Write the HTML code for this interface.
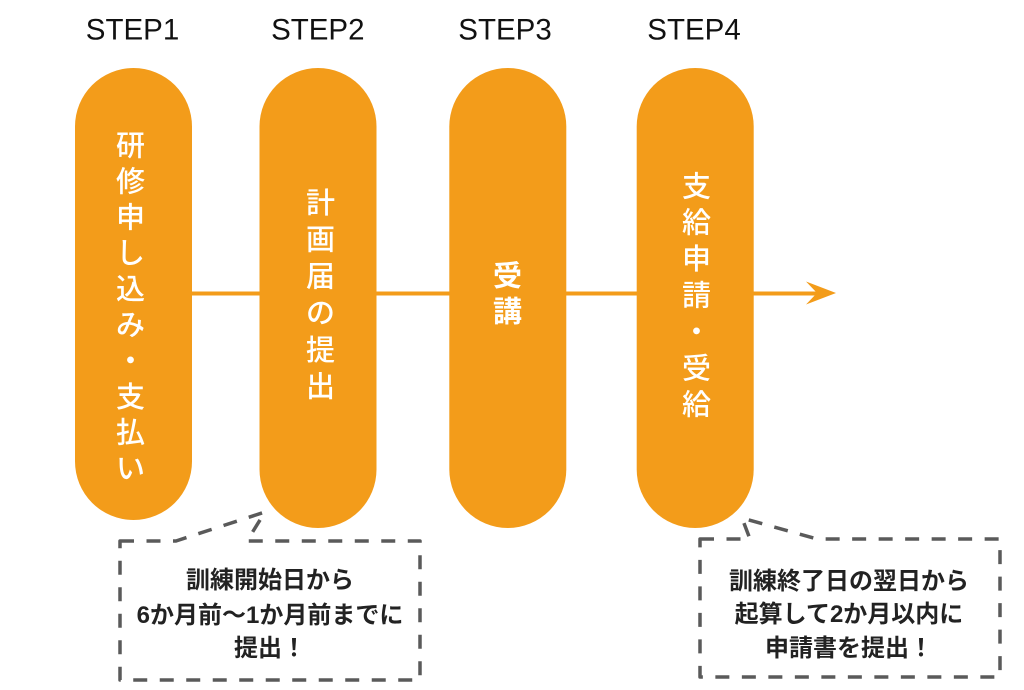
<!DOCTYPE html>
<html>
<head>
<meta charset="utf-8">
<style>
  html,body{margin:0;padding:0;background:#fff;}
  body{width:1024px;height:690px;overflow:hidden;}
  svg{display:block;}
</style>
</head>
<body>
<svg width="1024" height="690" viewBox="0 0 1024 690" xmlns="http://www.w3.org/2000/svg">
  <rect x="0" y="0" width="1024" height="690" fill="#ffffff"/>

  <!-- STEP labels -->
  <g font-family="'Liberation Sans', Arial, sans-serif" font-size="29.5" fill="#111" text-anchor="middle">
    <text x="132.5" y="39.5">STEP1</text>
    <text x="317.8" y="39.5">STEP2</text>
    <text x="505" y="39.5">STEP3</text>
    <text x="694" y="39.5">STEP4</text>
  </g>

  <!-- arrow line -->
  <rect x="150" y="291.5" width="670" height="4" fill="#F39C1A"/>
  <polygon points="836,293 806,281.5 817,293 806,304.5" fill="#F39C1A"/>

  <!-- pills -->
  <g fill="#F39C1A">
    <rect x="75" y="68" width="117" height="452" rx="58.5" ry="58.5"/>
    <rect x="259.5" y="68" width="117" height="460" rx="58.5" ry="58.5"/>
    <rect x="449.3" y="68" width="117" height="460" rx="58.5" ry="58.5"/>
    <rect x="636.7" y="68" width="117" height="460" rx="58.5" ry="58.5"/>
  </g>

  <!-- pill texts -->
  <g font-family="'Liberation Sans', 'Noto Sans CJK JP', sans-serif" font-size="29" font-weight="500" fill="#ffffff" text-anchor="middle">
    <text x="130.5" y="155.5">研</text>
    <text x="130.5" y="191.4">修</text>
    <text x="130.5" y="227.3">申</text>
    <text x="130.5" y="263.2">し</text>
    <text x="130.5" y="299.1">込</text>
    <text x="130.5" y="335">み</text>
    <text x="130.5" y="370.9">・</text>
    <text x="130.5" y="406.8">支</text>
    <text x="130.5" y="442.7">払</text>
    <text x="130.5" y="478.6">い</text>

    <text x="320.5" y="213">計</text>
    <text x="320.5" y="249.7">画</text>
    <text x="320.5" y="286.4">届</text>
    <text x="320.5" y="323.1">の</text>
    <text x="320.5" y="359.8">提</text>
    <text x="320.5" y="396.5">出</text>

    <text x="507.5" y="286" font-weight="bold">受</text>
    <text x="507.5" y="321.5" font-weight="bold">講</text>

    <text x="696.5" y="196.3">支</text>
    <text x="696.5" y="232.7">給</text>
    <text x="696.5" y="269.1">申</text>
    <text x="696.5" y="305.5">請</text>
    <text x="696.5" y="341.9">・</text>
    <text x="696.5" y="378.3">受</text>
    <text x="696.5" y="414.7">給</text>
  </g>

  <!-- callout boxes -->
  <g fill="none" stroke="#5a5a5a" stroke-width="3.5" stroke-dasharray="14 12.5" stroke-linejoin="round">
    <path d="M120,541 L176,541 L265,512 L247,541 L420,541 L420,680 L120,680 Z"/>
    <path d="M700,539 L750,539 L742,518 L817,539 L1000,539 L1000,677 L700,677 Z"/>
  </g>

  <!-- callout texts -->
  <g font-family="'Liberation Sans', 'Noto Sans CJK JP', sans-serif" font-size="24" font-weight="bold" fill="#222" text-anchor="middle">
    <text x="270" y="588">訓練開始日から</text>
    <text x="270" y="623">6か月前〜1か月前までに</text>
    <text x="270" y="656">提出！</text>

    <text x="849" y="589">訓練終了日の翌日から</text>
    <text x="849" y="622">起算して2か月以内に</text>
    <text x="849" y="656">申請書を提出！</text>
  </g>
</svg>
</body>
</html>
